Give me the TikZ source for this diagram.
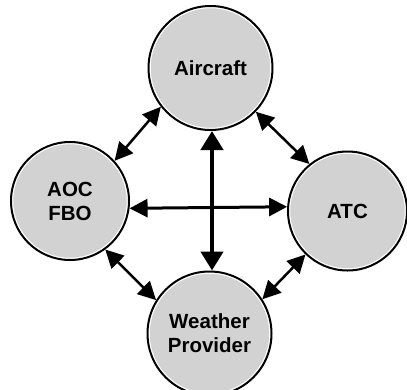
\documentclass[tikz,border=0pt]{standalone}
\usepackage{fontspec}
\setmainfont{Liberation Sans}
\usetikzlibrary{arrows.meta}
\definecolor{discfill}{HTML}{D2D2D2}
\tikzset{
  party/.style={circle, fill=discfill, draw=black, line width=2pt,
    inner sep=0pt, align=center,
    font=\fontsize{20.5}{24}\selectfont\bfseries},
  innerring/.style={draw=white, line width=0.9pt},
  link/.style={line width=2.5pt,
    {Triangle[length=18pt,width=18pt]}-{Triangle[length=18pt,width=18pt]}},
  hlink/.style={line width=3pt,
    {Triangle[length=18pt,width=18pt]}-{Triangle[length=18pt,width=18pt]}},
  vlink/.style={line width=4.5pt,
    {Triangle[length=19pt,width=22pt]}-{Triangle[length=19pt,width=22pt]}}
}
\begin{document}
\begin{tikzpicture}[x=1pt,y=-1pt]
\useasboundingbox (0,0) rectangle (407,389);

% the four parties
\node[party, minimum size=124pt] (air) at (210.5,68) {Aircraft};
\node[party, minimum size=118pt] (aoc) at (70,201) {AOC\\FBO};
\node[party, minimum size=119pt] (atc) at (347.5,211) {ATC};
\node[party, minimum size=124pt] (wx)  at (209.5,333.5) {Weather\\Provider};

% thin white rim just inside each outline
\draw[innerring] (air.center) circle (60.2pt);
\draw[innerring] (aoc.center) circle (57.2pt);
\draw[innerring] (atc.center) circle (57.7pt);
\draw[innerring] (wx.center)  circle (60.2pt);

% data exchanges
\draw[link] (air.218) -- (aoc.42);
\draw[link] (air.-44) -- (atc.129);
\draw[link] (aoc.-54) -- (wx.148);
\draw[link] (atc.226) -- (wx.33);
\draw[hlink] (aoc.-7) -- (atc.176.5);
\draw[vlink] ([xshift=1.5pt]air.south) -- ([xshift=2.5pt]wx.north);
\end{tikzpicture}
\end{document}
